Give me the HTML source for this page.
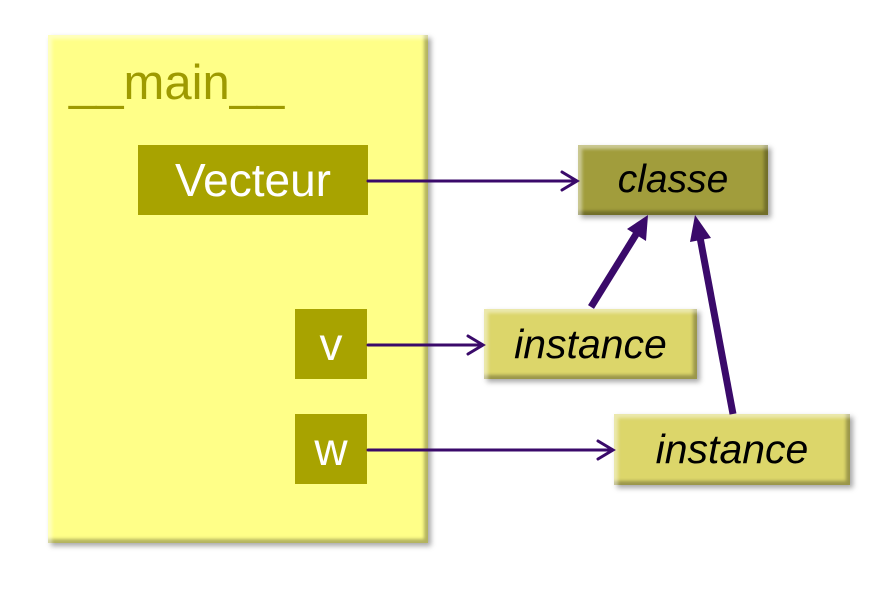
<!DOCTYPE html>
<html><head><style>
body{margin:0;width:886px;height:591px;background:#fff;position:relative;overflow:hidden;font-family:"Liberation Sans",sans-serif}
.b{position:absolute;box-sizing:border-box;display:flex;align-items:center;justify-content:center}
.bev{box-shadow:inset 4px 4px 3px rgba(255,255,255,.45),inset -4px -4px 3px rgba(0,0,0,.3),3px 3px 5px rgba(0,0,0,.35)}
.dk{background:#a8a300;color:#fff;font-size:46px}
.it{font-style:italic;color:#000}
</style></head><body>
<div class="b bev" style="left:48px;top:35px;width:380px;height:508px;background:#ffff88;display:block"></div>
<div style="position:absolute;left:69px;top:55px;font-size:49px;color:#9e9a00">__main__</div>
<div class="b dk" style="left:138px;top:145px;width:230px;height:70px">Vecteur</div>
<div class="b dk" style="left:295px;top:309px;width:72px;height:70px">v</div>
<div class="b dk" style="left:295px;top:414px;width:72px;height:70px">w</div>
<div class="b bev it" style="left:578px;top:145px;width:190px;height:70px;background:#a19d3c;font-size:39px">classe</div>
<div class="b bev it" style="left:484px;top:309px;width:213px;height:70px;background:#dcd66a;font-size:41px">instance</div>
<div class="b bev it" style="left:614px;top:414px;width:236px;height:71px;background:#dcd66a;font-size:41px">instance</div>
<svg width="886" height="591" style="position:absolute;left:0;top:0">
<g stroke="#3a0a6a" fill="none" stroke-linecap="round">
<line x1="368" y1="181" x2="576" y2="181" stroke-width="3"/>
<polyline points="562,172 577,181 562,190" stroke-width="3"/>
<line x1="368" y1="345" x2="482" y2="345" stroke-width="3"/>
<polyline points="468,336 483,345 468,354" stroke-width="3"/>
<line x1="368" y1="450" x2="612" y2="450" stroke-width="3"/>
<polyline points="598,441 613,450 598,459" stroke-width="3"/>
<line x1="591" y1="307" x2="640" y2="228" stroke-width="7" stroke-linecap="butt"/>
<line x1="733" y1="414" x2="699" y2="232" stroke-width="7" stroke-linecap="butt"/>
</g>
<polygon points="648,215 646,241 627,229" fill="#3a0a6a"/>
<polygon points="695,215 711,238 690,242" fill="#3a0a6a"/>
</svg>
</body></html>
